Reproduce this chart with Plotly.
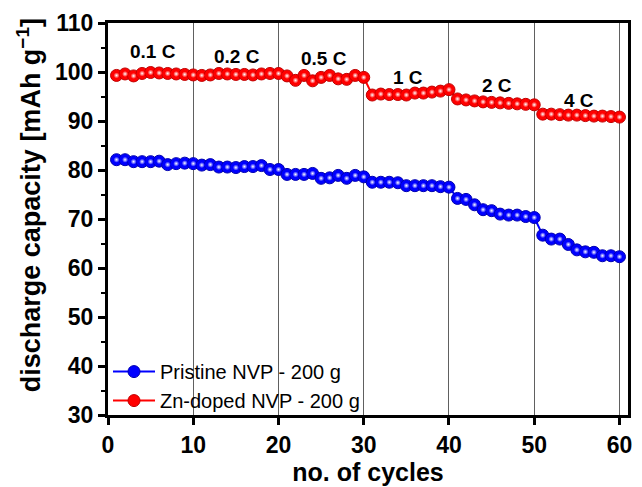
import plotly.graph_objects as go

# Cycle numbers and discharge capacities (mAh/g)
cycles = list(range(1, 61))

pristine = [
    82.1, 82.1, 81.7, 81.7, 81.7, 81.8, 81.1, 81.3, 81.4, 81.3,
    81.0, 81.1, 80.6, 80.6, 80.5, 80.7, 80.7, 80.9, 80.1, 80.1,
    79.1, 79.1, 79.1, 79.3, 78.3, 78.4, 78.9, 78.3, 78.9, 78.6,
    77.5, 77.5, 77.5, 77.4, 76.8, 76.8, 76.8, 76.8, 76.6, 76.5,
    74.2, 74.0, 72.9, 71.9, 71.7, 71.0, 70.8, 70.8, 70.5, 70.3,
    66.7, 65.9, 65.9, 64.8, 63.7, 63.3, 63.2, 62.5, 62.5, 62.3,
]

zn_doped = [
    99.3, 99.6, 99.2, 99.7, 99.9, 99.8, 99.7, 99.6, 99.5, 99.4,
    99.3, 99.4, 99.7, 99.6, 99.5, 99.5, 99.4, 99.6, 99.7, 99.7,
    99.2, 98.3, 99.3, 98.2, 98.9, 99.3, 98.6, 98.5, 99.3, 98.9,
    95.3, 95.5, 95.4, 95.4, 95.3, 95.7, 95.7, 95.9, 96.1, 96.4,
    94.5, 94.3, 94.1, 93.9, 93.8, 93.7, 93.6, 93.5, 93.4, 93.3,
    91.4, 91.4, 91.3, 91.2, 91.2, 91.1, 91.0, 91.0, 90.9, 90.8,
]

# Current-rate labels: text, x position, y position
rate_text = ["0.1 C", "0.2 C", "0.5 C", "1 C", "2 C", "4 C"]
rate_x = [5.3, 15.1, 25.3, 35.2, 45.6, 55.2]
rate_y = [104.2, 103.2, 102.8, 98.9, 97.2, 94.1]

series_names = ["Pristine NVP - 200 g", "Zn-doped NVP - 200 g"]
series_values = [pristine, zn_doped]
series_colors = ["#0000FF", "#FF0000"]
edge_colors = ["#0000B0", "#C00000"]

FONT = "Arial, Liberation Sans, sans-serif"

fig = go.Figure()

for name, vals, col, edge in zip(series_names, series_values, series_colors, edge_colors):
    fig.add_trace(go.Scatter(
        x=cycles, y=vals, name=name, mode="lines+markers",
        line=dict(color=col, width=2),
        marker=dict(size=12, color=col, line=dict(color=edge, width=1)),
    ))
    # glossy highlight on each ball
    fig.add_trace(go.Scatter(
        x=cycles, y=vals, mode="markers", showlegend=False, hoverinfo="skip",
        marker=dict(size=6, color=col,
                    gradient=dict(type="radial", color="#FFFFFF")),
    ))

for t, x, y in zip(rate_text, rate_x, rate_y):
    fig.add_annotation(x=x, y=y, text=t, showarrow=False,
                       font=dict(family=FONT, size=19, color="black", weight="bold"))

# Heading running off the top edge of the page
fig.add_annotation(xref="paper", yref="paper", x=0.648, y=1.105,
                   xanchor="center", yanchor="middle", showarrow=False,
                   text="Specific capacity [mAh g<sup>−1</sup>]",
                   font=dict(family=FONT, size=28, color="black", weight="bold"))

# Y-axis title as a rotated annotation
fig.add_annotation(xref="paper", yref="paper", x=-0.152, y=0.535,
                   xanchor="center", yanchor="middle", showarrow=False,
                   textangle=-90,
                   text="discharge capacity [mAh g<sup>−1</sup>]",
                   font=dict(family=FONT, size=27, color="black", weight="bold"))

fig.update_layout(
    width=642, height=487,
    margin=dict(l=108, r=10, t=21, b=68),
    paper_bgcolor="white", plot_bgcolor="white",
    font=dict(family=FONT, color="black"),
    showlegend=True,
    legend=dict(x=0.0, y=-0.013, xanchor="left", yanchor="bottom",
                bgcolor="rgba(0,0,0,0)", font=dict(family=FONT, size=20),
                tracegroupgap=0, itemwidth=42),
)

fig.update_xaxes(
    range=[0, 61], tickmode="linear", tick0=0, dtick=10,
    showgrid=True, gridcolor="#606060", gridwidth=1,
    zeroline=False,
    showline=True, linecolor="black", linewidth=3, mirror=True,
    ticks="outside", ticklen=7, tickwidth=3, tickcolor="black",
    tickfont=dict(family=FONT, size=23, weight="bold"),
    title=dict(text="no. of cycles", standoff=2,
               font=dict(family=FONT, size=25, weight="bold")),
)

fig.update_yaxes(
    range=[30, 110], tickmode="linear", tick0=30, dtick=10,
    showgrid=False, zeroline=False,
    showline=True, linecolor="black", linewidth=3, mirror=True,
    ticks="outside", ticklen=7, tickwidth=3, tickcolor="black",
    minor=dict(ticks="outside", ticklen=4, tickwidth=2, dtick=5, tickcolor="black"),
    tickfont=dict(family=FONT, size=23, weight="bold"),
)

fig.write_html("out.html")
